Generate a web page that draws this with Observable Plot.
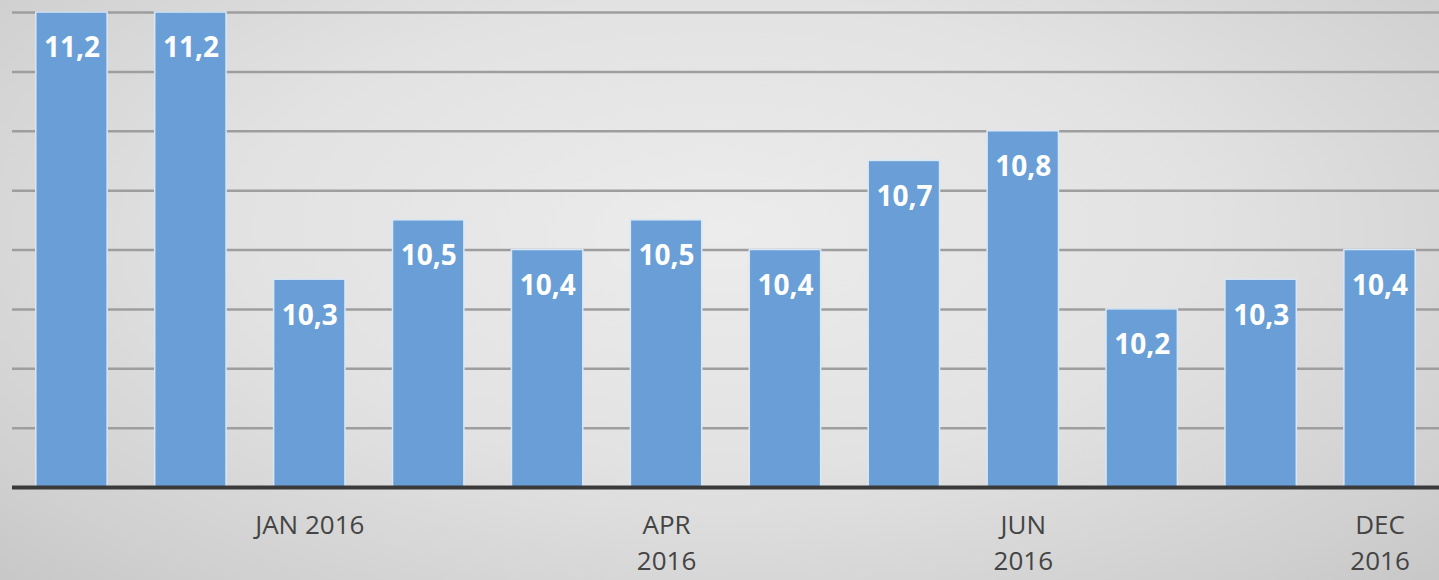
<!DOCTYPE html>
<html>
<head>
<meta charset="utf-8">
<script src="https://cdn.jsdelivr.net/npm/d3@7"></script>
<script src="https://cdn.jsdelivr.net/npm/@observablehq/plot@0.6"></script>
<style>
  html, body { margin: 0; padding: 0; background: #d8d8d8; }
  #chart svg { display: block; }
</style>
</head>
<body>
<div id="chart"></div>
<script>
const categories = [1, 2, 3, 4, 5, 6, 7, 8, 9, 10, 11, 12];
const values = [11.2, 11.2, 10.3, 10.5, 10.4, 10.5, 10.4, 10.7, 10.8, 10.2, 10.3, 10.4];
const tickLabels = ["", "", "JAN 2016", "", "", "APR\n2016", "", "", "JUN\n2016", "", "", "DEC\n2016"];
const yTicks = [9.8, 10.0, 10.2, 10.4, 10.6, 10.8, 11.0, 11.2];
const yMin = 9.6, yMax = 11.2;

const data = categories.map((c, i) => ({cat: c, value: values[i], label: tickLabels[i]}));
const fmt = v => v.toFixed(1).replace(".", ",");

const chart = Plot.plot({
  width: 1439,
  height: 580,
  marginLeft: 12,
  marginRight: 0,
  marginTop: 12,
  marginBottom: 93,
  style: {
    background: "radial-gradient(ellipse 75% 90% at 50% 40%, #ececec 0%, #e2e2e2 45%, #d0d0d0 80%, #c4c4c4 100%)",
    fontFamily: "'Open Sans', sans-serif",
    overflow: "visible"
  },
  x: {type: "band", domain: categories, paddingInner: 0.4, paddingOuter: 0.2, round: false, axis: null},
  y: {domain: [yMin, yMax], axis: null},
  marks: [
    Plot.ruleY(yTicks, {stroke: "#9e9e9e", strokeWidth: 2.5}),
    Plot.barY(data, {x: "cat", y1: yMin, y2: "value", fill: "#699fd6", stroke: "#d9e7f5", strokeWidth: 1.5}),
    Plot.ruleY([yMin], {stroke: "#3a3a3a", strokeWidth: 4}),
    Plot.text(data, {x: "cat", y: "value", text: d => fmt(d.value), dy: 36, fill: "white", fontWeight: "bold", fontSize: 28}),
    Plot.text(data.filter(d => d.label), {x: "cat", y: yMin, text: "label", dy: 21, lineAnchor: "top", lineHeight: 1.38, fill: "#444", fontSize: 26})
  ]
});
document.getElementById("chart").append(chart);
</script>
</body>
</html>
